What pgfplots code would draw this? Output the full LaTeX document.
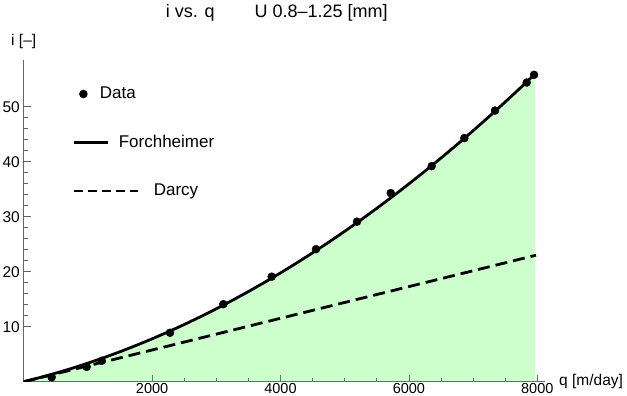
\documentclass[border=0pt]{standalone}
\usepackage{pgfplots}
\pgfplotsset{compat=1.18}
\usepackage{fontspec}
\setmainfont{Liberation Sans}
\begin{document}
\fontsize{15.5bp}{18bp}\selectfont
\begin{tikzpicture}[font=\fontsize{15.5bp}{18bp}\selectfont]
\path[use as bounding box] (-23.7bp,-14.3bp) rectangle (603.3bp,381.7bp);
\begin{axis}[
  at={(0,0)}, anchor=south west,
  scale only axis, width=521.3bp, height=321.7bp,
  xmin=0, xmax=8120, ymin=0, ymax=58.5,
  axis lines=left,
  axis line style={-, black!60, line width=1bp},
  tick style={black!60, line width=0.8bp},
  tick align=inside,
  major tick length=7bp, minor tick length=4bp,
  xtick={2000,4000,6000,8000}, minor x tick num=3,
  ytick={10,20,30,40,50}, minor y tick num=4,
  /pgf/number format/assume math mode=true,
  /pgf/number format/1000 sep={},
  yticklabel style={xshift=1.5bp},
  xticklabel style={inner sep=0pt, yshift=-1bp, font=\fontsize{14.5bp}{16bp}\selectfont},
  xlabel={q [m/day]},
  xlabel style={at={(axis description cs:1,0)}, anchor=west, xshift=14bp, inner sep=0pt},
  ylabel={i [–]},
  ylabel style={at={(axis description cs:0,1)}, anchor=south, rotate=-90, yshift=11bp, inner sep=0pt},
  title={i vs. q\hspace{40bp}U 0.8–1.25 [mm]},
  title style={at={(axis description cs:0.2724,1.112)}, anchor=base west, inner sep=0pt,
    font=\fontsize{18bp}{21bp}\selectfont},
  legend cell align=left,
  legend style={at={(axis cs:768,53.68)}, anchor=north west, draw=none, fill=none,
    inner sep=0pt, outer sep=0pt, row sep=33.5bp, column sep=14bp,
    font=\fontsize{17bp}{20bp}\selectfont,
    nodes={inner sep=0pt, text height=12bp, text depth=3bp}},
]
% data points
\addplot[only marks, mark=*, mark size=4bp, black, forget plot] coordinates {
(436,0.8) (981,2.7) (1215,3.8) (2279,8.9) (3109,14.1) (3863,19.1) (4553,24.1)
(5192,29.1) (5717,34.3) (6355,39.2) (6863,44.3) (7341,49.3) (7835,54.4) (7949,55.8)
};
% fill under Forchheimer
\addplot[draw=none, fill=green, fill opacity=0.2, forget plot] coordinates {
(0,0) (250,0.744) (500,1.554) (750,2.429) (1000,3.370) (1250,4.376) (1500,5.449)
(1750,6.587) (2000,7.79) (2250,9.059) (2500,10.394) (2750,11.794) (3000,13.26)
(3250,14.791) (3500,16.389) (3750,18.052) (4000,19.78) (4250,21.574) (4500,23.434)
(4750,25.359) (5000,27.35) (5250,29.406) (5500,31.529) (5750,33.717) (6000,35.97)
(6250,38.289) (6500,40.674) (6750,43.124) (7000,45.64) (7250,48.221) (7500,50.869)
(7750,53.582) (7965,55.967) (7965,0)
} -- cycle;
% Forchheimer
\addplot[black, line width=2.8bp, forget plot] coordinates {
(0,0) (250,0.744) (500,1.554) (750,2.429) (1000,3.370) (1250,4.376) (1500,5.449)
(1750,6.587) (2000,7.79) (2250,9.059) (2500,10.394) (2750,11.794) (3000,13.26)
(3250,14.791) (3500,16.389) (3750,18.052) (4000,19.78) (4250,21.574) (4500,23.434)
(4750,25.359) (5000,27.35) (5250,29.406) (5500,31.529) (5750,33.717) (6000,35.97)
(6250,38.289) (6500,40.674) (6750,43.124) (7000,45.64) (7250,48.221) (7500,50.869)
(7750,53.582) (7965,55.967)
};
% Darcy
\addplot[black, line width=2.8bp, dash pattern=on 12bp off 6bp, forget plot] coordinates {
(0,0) (7980,23.0)
};
\addlegendimage{legend image code/.code={\path[draw=none,fill=none] (0bp,0bp) -- (64bp,0bp); \fill[black,draw=none] (9bp,0bp) circle (4.3bp);}}
\addlegendentry{\hspace*{-54bp}Data\hspace*{23bp}}
\addlegendimage{legend image code/.code={\path[draw=none,fill=none] (0bp,0bp) -- (64bp,0bp); \draw[black, line width=2.8bp] (0bp,0bp) -- (34bp,0bp);}}
\addlegendentry{\hspace*{-35bp}Forchheimer}
\addlegendimage{legend image code/.code={\draw[black, line width=2.8bp, dash pattern=on 9bp off 5bp] (0bp,0bp) -- (64bp,0bp);}}
\addlegendentry{Darcy}
\end{axis}
\end{tikzpicture}
\end{document}
